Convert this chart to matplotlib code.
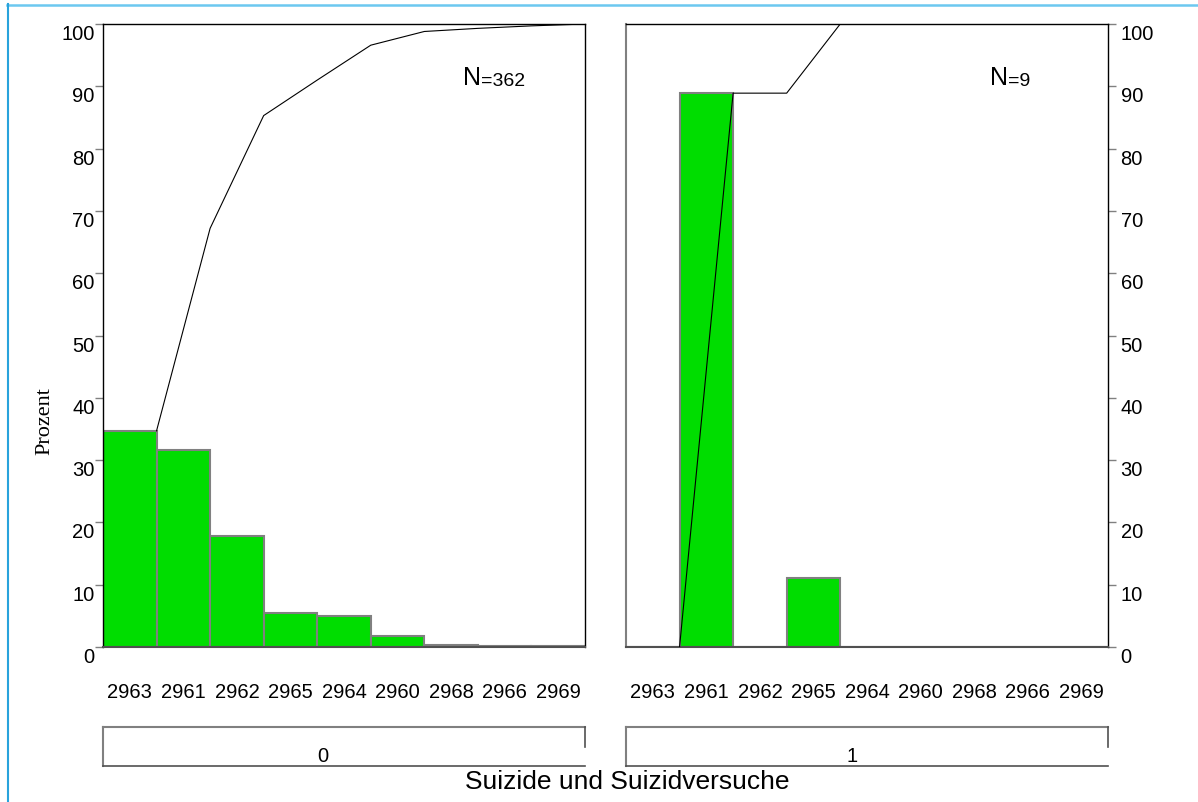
import matplotlib
matplotlib.use('Agg')
import matplotlib.pyplot as plt
from matplotlib.lines import Line2D
import numpy as np

plt.rcParams['font.family'] = ['Liberation Sans', 'DejaVu Sans']

categories = ['2963', '2961', '2962', '2965', '2964', '2960', '2968', '2966', '2969']
groups = ['0', '1']
n_labels = ['362', '9']

# percent per category
pct_0 = [34.7, 31.7, 17.8, 5.4, 5.0, 1.8, 0.3, 0.2, 0.2]
pct_1 = [0.0, 88.9, 0.0, 11.1, 0.0, 0.0, 0.0, 0.0, 0.0]
# cumulative percent
cum_0 = [34.7, 67.2, 85.3, 91.0, 96.6, 98.8, 99.3, 99.7, 100.0]
cum_1 = [0.0, 88.9, 88.9, 100.0, 100.0, 100.0, 100.0, 100.0, 100.0]

W, H = 1198, 803
fig = plt.figure(figsize=(W / 100, H / 100), dpi=100)

def px(x0, y0, x1, y1):
    return [x0 / W, 1 - y1 / H, (x1 - x0) / W, (y1 - y0) / H]

bar_green = '#00DD00'
edge_gray = '#808080'
dark = '#505050'

panels = [
    (px(103, 25, 585, 648), pct_0, cum_0, n_labels[0], 'left'),
    (px(626, 25, 1108, 648), pct_1, cum_1, n_labels[1], 'right'),
]

x = np.arange(len(categories))
for rect, pct, cum, nlab, side in panels:
    ax = fig.add_axes(rect)
    ax.bar(x, pct, width=1.0, color=bar_green, edgecolor=edge_gray, linewidth=1.5, zorder=2)
    ax.plot(x + 0.5, cum, color='black', linewidth=0.8, zorder=3)
    ax.set_xlim(-0.5, 8.5)
    ax.set_ylim(0, 100)
    ax.set_yticks(np.arange(0, 101, 10))
    ax.set_xticks(x)
    ax.set_xticklabels(categories, fontsize=14.5)
    ax.tick_params(axis='x', length=0, pad=25)
    for s in ['top', 'left', 'right']:
        ax.spines[s].set_color('black')
        ax.spines[s].set_linewidth(1.0)
    ax.spines['bottom'].set_color(dark)
    ax.spines['bottom'].set_linewidth(1.5)
    if side == 'left':
        ax.yaxis.tick_left()
        ax.tick_params(axis='y', direction='out', length=5.5, width=1.0,
                       color=edge_gray, labelsize=14.5, pad=0.5)
    else:
        ax.spines['left'].set_color(edge_gray)
        ax.spines['left'].set_linewidth(1.5)
        ax.yaxis.tick_right()
        ax.tick_params(axis='y', direction='out', length=5.5, width=1.0,
                       color=edge_gray, labelsize=14.5, pad=3.5)
    for lbl in ax.get_yticklabels():
        lbl.set_va('top')
    tN = ax.text(0.747 if side == 'left' else 0.755, 0.904, 'N',
                 transform=ax.transAxes, fontsize=18, va='baseline', ha='left')
    ax.annotate('=' + nlab, xy=(1, 0), xycoords=tN, fontsize=14,
                va='bottom', ha='left')

fig.text(45 / W, 1 - 421 / H, 'Prozent', family='Liberation Serif', fontsize=16,
         rotation=90, ha='center', va='center')

# group strips under the panels
strips = [(px(103, 728, 585, 767), groups[0], 0.457),
          (px(626, 728, 1108, 767), groups[1], 0.468)]
for rect, lab, lx in strips:
    sax = fig.add_axes(rect)
    sax.set_xlim(0, 1)
    sax.set_ylim(0, 1)
    sax.axis('off')
    sax.add_line(Line2D([0, 1], [1, 1], color=edge_gray, lw=1.5, clip_on=False))
    sax.add_line(Line2D([0, 0], [0, 1], color=edge_gray, lw=1.5, clip_on=False))
    sax.add_line(Line2D([1, 1], [0.49, 1], color=dark, lw=1.2, clip_on=False))
    sax.add_line(Line2D([0, 1], [0, 0], color=dark, lw=1.2, clip_on=False))
    sax.text(lx, 0.02, lab, fontsize=14.5, ha='center', va='bottom')

fig.text(627 / W, 1 - 782 / H, 'Suizide und Suizidversuche', fontsize=19,
         ha='center', va='center')

# thin blue frame on top and left edge
fig.add_artist(Line2D([7 / W, 1], [1 - 5.5 / H, 1 - 5.5 / H], color='#6cc8f0',
                      lw=1.8, transform=fig.transFigure))
fig.add_artist(Line2D([7.5 / W, 7.5 / W], [0, 1 - 5 / H], color='#29a3dc',
                      lw=1.5, transform=fig.transFigure))

fig.savefig('out.png', dpi=100)
